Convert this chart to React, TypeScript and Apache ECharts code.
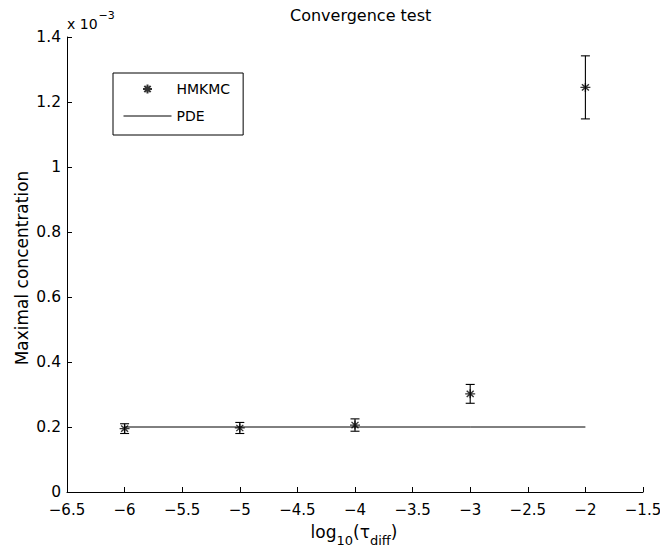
import React, { useEffect, useRef } from "react";
import * as echarts from "echarts";

// ---- data (values in units of 1e-3) ----
const tauLog = [-6, -5, -4, -3, -2];
const hmkmcMean = [0.195, 0.197, 0.206, 0.302, 1.245];
const hmkmcErr = [0.015, 0.017, 0.019, 0.029, 0.097];
const pdeX = [-6, -5, -4, -3, -2];
const pdeY = [0.2, 0.2, 0.2, 0.2, 0.2];
const seriesNames = ["HMKMC", "PDE"];
const titleText = "Convergence test";
const yAxisName = "Maximal concentration";
const exponentBase = "x 10";
const exponentPower = "\u22123";
const xNameParts = [
  { t: "log", sub: false },
  { t: "10", sub: true },
  { t: "(\u03c4", sub: false },
  { t: "diff", sub: true },
  { t: ")", sub: false },
];
const X_MIN = -6.5, X_MAX = -1.5, X_STEP = 0.5;
const Y_MIN = 0, Y_MAX = 1.4, Y_STEP = 0.2;

const FONT = "DejaVu Sans";
const STAR = "path://M0,-10L0,10M-10,0L10,0M-7,-7L7,7M-7,7L7,-7";
const CLEAR = "rgba(0,0,0,0)";

function measure(text: string, size: number) {
  const c = document.createElement("canvas").getContext("2d");
  if (!c) return text.length * size * 0.6;
  c.font = `${size}px "${FONT}"`;
  return c.measureText(text).width;
}

export default function App() {
  const ref = useRef<HTMLDivElement>(null);
  useEffect(() => {
    if (!ref.current) return;
    const chart = echarts.init(ref.current, null, { renderer: "svg" });

    const MAIN = 17, SUB = 13;
    const widths = xNameParts.map((p) => measure(p.t, p.sub ? SUB : MAIN));
    const total = widths.reduce((a, b) => a + b, 0);
    let cx = 354 - total / 2;
    const xNameChildren: any[] = [];
    xNameParts.forEach((p, i) => {
      xNameChildren.push({
        type: "text",
        x: cx,
        y: p.sub ? 540 : 532,
        style: {
          text: p.t,
          fontFamily: FONT,
          fontSize: p.sub ? SUB : MAIN,
          fill: "#000",
          align: "left",
          verticalAlign: "middle",
        },
      });
      cx += widths[i];
    });

    const option: any = {
      animation: false,
      backgroundColor: "#fff",
      title: {
        text: titleText,
        left: 290,
        top: 7,
        padding: 0,
        textStyle: { fontFamily: FONT, fontSize: 16, fontWeight: "normal", color: "#000" },
      },
      grid: { left: 67, right: 17, top: 37, bottom: 56, containLabel: false, outerBoundsMode: "none" },
      legend: {
        left: 113,
        top: 73,
        orient: "vertical",
        data: [
          { name: seriesNames[0], icon: STAR },
          {
            name: seriesNames[1],
            itemStyle: { color: CLEAR, borderColor: CLEAR, borderWidth: 0 },
            lineStyle: { color: "#000", width: 1 },
          },
        ],
        itemWidth: 48,
        itemHeight: 9,
        itemGap: 13,
        padding: [9, 13, 12, 10],
        borderColor: "#000",
        borderWidth: 1,
        borderRadius: 0,
        backgroundColor: "#fff",
        selectedMode: false,
        textStyle: { fontFamily: FONT, fontSize: 14, color: "#000" },
      },
      xAxis: {
        type: "value",
        min: X_MIN,
        max: X_MAX,
        interval: X_STEP,
        axisLine: { show: true, onZero: false, lineStyle: { color: "#000", width: 1 } },
        axisTick: { show: true, inside: true, length: 5, lineStyle: { color: "#000" } },
        splitLine: { show: false },
        axisLabel: {
          margin: 10,
          fontFamily: FONT,
          fontSize: 15,
          color: "#000",
          formatter: (v: number) => (v < 0 ? "\u2212" + Math.abs(v) : String(v)),
        },
      },
      yAxis: {
        type: "value",
        min: Y_MIN,
        max: Y_MAX,
        interval: Y_STEP,
        axisLine: { show: true, lineStyle: { color: "#000", width: 1 } },
        axisTick: { show: true, inside: true, length: 5, lineStyle: { color: "#000" } },
        splitLine: { show: false },
        axisLabel: {
          margin: 6,
          fontFamily: FONT,
          fontSize: 15.5,
          color: "#000",
          formatter: (v: number) => String(+v.toFixed(1)),
        },
      },
      graphic: [
        {
          type: "text",
          x: 22,
          y: 268,
          rotation: Math.PI / 2,
          style: {
            text: yAxisName,
            fontFamily: FONT,
            fontSize: 17,
            fill: "#000",
            align: "center",
            verticalAlign: "middle",
          },
        },
        {
          type: "text",
          x: 67,
          y: 24,
          style: { text: exponentBase, fontFamily: FONT, fontSize: 14, fill: "#000", verticalAlign: "middle" },
        },
        {
          type: "text",
          x: 67 + measure(exponentBase, 14) + 1,
          y: 15,
          style: { text: exponentPower, fontFamily: FONT, fontSize: 11, fill: "#000", verticalAlign: "middle" },
        },
        { type: "group", children: xNameChildren },
      ],
      series: [
        {
          name: seriesNames[1],
          type: "line",
          data: pdeX.map((x, i) => [x, pdeY[i]]),
          symbol: "none",
          showSymbol: false,
          lineStyle: { color: "#000", width: 1 },
          itemStyle: { color: "#000" },
          z: 2,
        },
        {
          name: "errorbars",
          type: "custom",
          data: tauLog.map((x, i) => [x, hmkmcMean[i] - hmkmcErr[i], hmkmcMean[i] + hmkmcErr[i]]),
          encode: { x: 0, y: [1, 2] },
          renderItem: (_params: any, api: any) => {
            const x = api.value(0);
            const top = api.coord([x, api.value(2)]);
            const bot = api.coord([x, api.value(1)]);
            const w = 4.5;
            const style = { stroke: "#000", lineWidth: 1.1 };
            return {
              type: "group",
              children: [
                { type: "line", shape: { x1: top[0], y1: top[1], x2: bot[0], y2: bot[1] }, style },
                { type: "line", shape: { x1: top[0] - w, y1: top[1], x2: top[0] + w, y2: top[1] }, style },
                { type: "line", shape: { x1: bot[0] - w, y1: bot[1], x2: bot[0] + w, y2: bot[1] }, style },
              ],
            };
          },
          z: 3,
        },
        {
          name: seriesNames[0],
          type: "scatter",
          data: tauLog.map((x, i) => [x, hmkmcMean[i]]),
          symbol: STAR,
          symbolSize: [10, 9],
          itemStyle: { color: "#000", borderColor: "#000", borderWidth: 1.3 },
          z: 4,
        },
      ],
    };
    chart.setOption(option);
    return () => chart.dispose();
  }, []);
  return (
    <div
      ref={ref}
      style={{ position: "absolute", left: 0, top: 0, width: 660, height: 548, background: "#fff" }}
    />
  );
}
